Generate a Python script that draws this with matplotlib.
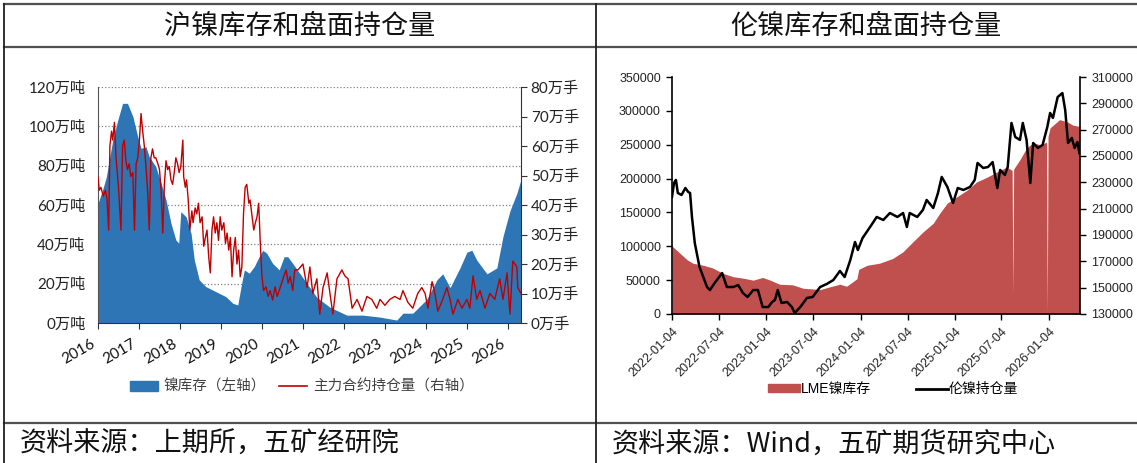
import matplotlib
matplotlib.use('Agg')
import matplotlib.pyplot as plt
from matplotlib.lines import Line2D
from matplotlib.patches import Patch
from datetime import date

CJK = 'Noto Sans CJK SC'
plt.rcParams['font.family'] = [CJK, 'DejaVu Sans']
plt.rcParams['axes.unicode_minus'] = False

# ---------------- left chart: SHFE nickel (decimal years) ----------------
shfe_stock_t = [2016.00, 2016.11, 2016.20, 2016.36, 2016.48, 2016.60, 2016.72, 2016.85, 2016.97,
                2017.05, 2017.17, 2017.25, 2017.41, 2017.54, 2017.66, 2017.78, 2017.90, 2017.97,
                2018.02, 2018.15, 2018.27, 2018.35, 2018.47, 2018.63, 2018.88, 2019.12, 2019.29,
                2019.41, 2019.49, 2019.57, 2019.69, 2019.81, 2019.93, 2020.02, 2020.12, 2020.26,
                2020.42, 2020.54, 2020.63, 2020.75, 2020.93, 2021.10, 2021.34, 2021.66, 2022.07,
                2022.46, 2022.88, 2023.29, 2023.44, 2023.68, 2024.02, 2024.27, 2024.41, 2024.59,
                2024.83, 2025.00, 2025.12, 2025.24, 2025.49, 2025.73, 2025.88, 2026.05, 2026.22,
                2026.32]
shfe_stock = [60.8, 67.6, 74, 93, 103, 111.7, 111.7, 105, 94.7,
              88.8, 89.6, 84.5, 79.5, 71, 62.5, 50.7, 42.2, 40.6,
              56.6, 54, 45.6, 32, 21.9, 18.5, 15.9, 13.4, 10,
              9.2, 18.5, 27, 25.3, 28.6, 33.7, 37, 35.4, 30.3,
              27, 33.7, 33.7, 30.3, 25, 20, 13, 8, 4,
              4, 3, 1.5, 5, 5, 12, 22, 25, 18,
              28, 36, 37, 32, 25, 28, 44, 57, 66,
              73]

shfe_oi_t = [2016.00, 2016.03, 2016.07, 2016.13, 2016.18, 2016.22, 2016.26, 2016.29, 2016.33, 2016.36,
             2016.40, 2016.44, 2016.47, 2016.50, 2016.56, 2016.60, 2016.64, 2016.68, 2016.72, 2016.76,
             2016.80, 2016.85, 2016.89, 2016.93, 2016.97, 2017.01, 2017.05, 2017.09, 2017.13, 2017.17,
             2017.21, 2017.25, 2017.29, 2017.33, 2017.37, 2017.41, 2017.46, 2017.50, 2017.54, 2017.58,
             2017.62, 2017.66, 2017.70, 2017.74, 2017.78, 2017.82, 2017.86, 2017.90, 2017.94, 2017.98,
             2018.02, 2018.07, 2018.09, 2018.13, 2018.16, 2018.20, 2018.24, 2018.29, 2018.32, 2018.37,
             2018.41, 2018.45, 2018.49, 2018.54, 2018.58, 2018.62, 2018.66, 2018.70, 2018.74, 2018.78,
             2018.82, 2018.86, 2018.90, 2018.94, 2018.98, 2019.02, 2019.07, 2019.11, 2019.15, 2019.19,
             2019.23, 2019.27, 2019.31, 2019.35, 2019.39, 2019.43, 2019.47, 2019.51, 2019.55, 2019.59,
             2019.63, 2019.68, 2019.71, 2019.76, 2019.80, 2019.84, 2019.88, 2019.92, 2019.96, 2020.00,
             2020.04, 2020.10, 2020.15, 2020.20, 2020.26, 2020.32, 2020.37, 2020.42, 2020.48, 2020.53,
             2020.59, 2020.64, 2020.69, 2020.75, 2020.80, 2020.88, 2021.00, 2021.10, 2021.17, 2021.24,
             2021.34, 2021.41, 2021.49, 2021.59, 2021.66, 2021.73, 2021.83, 2021.95, 2022.02, 2022.10,
             2022.20, 2022.32, 2022.44, 2022.56, 2022.68, 2022.80, 2022.88, 2023.00, 2023.12, 2023.24,
             2023.37, 2023.44, 2023.56, 2023.68, 2023.80, 2023.90, 2023.98, 2024.05, 2024.15, 2024.22,
             2024.29, 2024.41, 2024.51, 2024.59, 2024.66, 2024.78, 2024.88, 2025.00, 2025.07, 2025.15,
             2025.24, 2025.32, 2025.44, 2025.56, 2025.68, 2025.80, 2025.88, 2025.98, 2026.05, 2026.12,
             2026.22, 2026.24, 2026.32]
shfe_oi = [49.6, 45, 46, 43, 45, 42, 31.5, 60, 65, 62,
           68, 56, 51, 46, 31.5, 60, 62, 55, 52, 54,
           49.6, 51, 31.5, 54, 56, 62, 71, 65, 60, 53,
           45, 31.5, 56, 59, 56, 56, 54, 52, 45, 30.5,
           47, 55, 52, 53, 48.5, 47, 51, 56, 54, 51,
           53, 62, 49.6, 46, 48.5, 42, 31.5, 38, 34, 39,
           37, 40.6, 34, 36, 26, 29, 31.5, 22.5, 17, 31.5,
           36, 30.5, 34, 28, 36, 31.5, 34, 27, 30.5, 24.7,
           29, 15.7, 24.7, 29, 20, 24.7, 15.7, 19, 37, 46,
           47, 40.6, 41.7, 36, 31.5, 34, 36, 40.6, 27, 15.7,
           11, 12.3, 9, 11, 7.8, 12.3, 9, 11, 13.5, 15.7,
           18, 13.5, 15.7, 11, 18, 18, 20, 12, 19, 10,
           15, 3, 12, 17, 10, 3, 15, 18, 16, 15,
           5, 8, 4, 9, 8, 5, 8, 6, 8, 9,
           8, 11, 7, 5, 10, 12, 10, 5, 14, 10,
           4, 8, 12, 8, 3, 8, 5, 8, 5, 16,
           8, 11, 5, 10, 8, 15, 8, 17, 3, 21,
           19, 12, 10]

years_left = list(range(2016, 2027))

# ---------------- right chart: LME nickel (decimal years) ----------------
lme_stock_t = [2022.008, 2022.09, 2022.17, 2022.23, 2022.34, 2022.44, 2022.55, 2022.66, 2022.76,
               2022.87, 2022.97, 2023.05, 2023.15, 2023.29, 2023.40, 2023.50, 2023.58, 2023.68,
               2023.79, 2023.86, 2023.95, 2023.97, 2023.99, 2024.08, 2024.21, 2024.35, 2024.46,
               2024.56, 2024.67, 2024.78, 2024.85, 2024.93, 2025.03, 2025.14, 2025.24, 2025.35,
               2025.46, 2025.56, 2025.617, 2025.625, 2025.633, 2025.70, 2025.77, 2025.84, 2025.91,
               2025.97, 2025.982, 2025.99, 2025.998, 2026.02, 2026.12, 2026.20, 2026.26, 2026.33]
lme_stock = [100500, 90000, 80000, 75000, 72000, 68000, 60000, 55000, 53000,
             50000, 54000, 50000, 44000, 43000, 38000, 37000, 36000, 40000,
             44000, 41000, 50000, 52000, 66000, 72000, 75000, 82000, 92000,
             106000, 121000, 134000, 149000, 164000, 173000, 183000, 195000, 202000,
             210000, 217000, 212000, 30000, 214000, 228000, 245000, 253000, 250000,
             253000, 254000, 0, 262000, 275000, 287000, 284000, 279000, 277000]

lme_oi_t = [2022.008, 2022.03, 2022.05, 2022.07, 2022.11, 2022.15, 2022.18, 2022.20, 2022.22, 2022.25,
            2022.30, 2022.38, 2022.41, 2022.46, 2022.54, 2022.59, 2022.66, 2022.71, 2022.76, 2022.81,
            2022.87, 2022.92, 2022.97, 2023.03, 2023.07, 2023.10, 2023.13, 2023.17, 2023.23, 2023.28,
            2023.31, 2023.37, 2023.44, 2023.50, 2023.58, 2023.65, 2023.72, 2023.79, 2023.84, 2023.90,
            2023.95, 2023.98, 2024.03, 2024.11, 2024.18, 2024.25, 2024.32, 2024.40, 2024.46, 2024.50,
            2024.53, 2024.61, 2024.67, 2024.71, 2024.78, 2024.83, 2024.87, 2024.93, 2024.99, 2025.04,
            2025.10, 2025.17, 2025.22, 2025.25, 2025.31, 2025.36, 2025.41, 2025.46, 2025.49, 2025.54,
            2025.57, 2025.61, 2025.65, 2025.70, 2025.73, 2025.77, 2025.81, 2025.84, 2025.89, 2025.94,
            2025.99, 2026.02, 2026.05, 2026.10, 2026.15, 2026.18, 2026.21, 2026.25, 2026.28, 2026.31,
            2026.33]
lme_oi = [218900, 229500, 231800, 221900, 220400, 225700, 222700, 221900, 203700, 183900,
          165700, 150500, 148200, 153500, 161100, 150500, 150500, 152000, 146000, 142900,
          148200, 148200, 135300, 135300, 139100, 140600, 148200, 138400, 139100, 135300,
          130800, 135300, 142200, 142900, 150500, 152800, 155800, 162700, 158100, 171000,
          184700, 178600, 187700, 196100, 203700, 201400, 206700, 203700, 206700, 196100,
          206700, 203700, 209000, 216600, 210500, 221900, 234100, 226500, 214300, 225700,
          224200, 226500, 231800, 244700, 240900, 241600, 245400, 225700, 239400, 235600,
          241600, 275100, 264400, 262200, 275100, 262200, 229500, 259900, 256100, 258400,
          272000, 282700, 278900, 294800, 297800, 284900, 259900, 263700, 256100, 260600,
          252300]

tick_dates_right = ['2022-01-04', '2022-07-04', '2023-01-04', '2023-07-04', '2024-01-04',
                    '2024-07-04', '2025-01-04', '2025-07-04', '2026-01-04']


def dec_year(s):
    d = date.fromisoformat(s)
    return d.year + (d.timetuple().tm_yday - 1) / 365.0


W, H = 1137, 463
fig = plt.figure(figsize=(11.37, 4.63), dpi=100)

# ---------------- table frame ----------------
frame = '#505050'
for (x0, y0, x1, y1, c, lw) in [(4, 4, 1137, 4, frame, 1.6), (4, 47, 1137, 47, frame, 1.6),
                                (4, 423, 1137, 423, frame, 1.6), (4, 4, 4, 463, '#202020', 1.3),
                                (596, 4, 596, 463, '#202020', 1.3)]:
    fig.add_artist(Line2D([x0 / W, x1 / W], [1 - y0 / H, 1 - y1 / H], transform=fig.transFigure,
                          color=c, lw=lw))

txt = dict(fontsize=19.5, fontweight='light', color='#111111', va='center')
fig.text(300 / W, 1 - 26 / H, '沪镍库存和盘面持仓量', ha='center', **txt)
fig.text(866 / W, 1 - 26 / H, '伦镍库存和盘面持仓量', ha='center', **txt)
fig.text(20 / W, 1 - 444 / H, '资料来源：上期所，五矿经研院', ha='left', **txt)
fig.text(612 / W, 1 - 444 / H, '资料来源：Wind，五矿期货研究中心', ha='left', **txt)

# ---------------- left chart ----------------
blue = '#2E75B6'
red = '#C00000'
lat = ['Lato', CJK]
ax1 = fig.add_axes([98 / W, 1 - 323 / H, 423 / W, 236 / H])
ax1.fill_between(shfe_stock_t, shfe_stock, color=blue, lw=0, zorder=2)
ax1.set_xlim(2016, 2026.32)
ax1.set_ylim(0, 120)
ax1.set_yticks(range(0, 121, 20))
ax1.set_yticklabels([f'{v}万吨' for v in range(0, 121, 20)], fontsize=11, family=lat, color='#222222')
ax1.set_xticks(years_left)
ax1.set_xticklabels([str(y) for y in years_left], rotation=30, ha='right', fontsize=11,
                    family=lat, color='#111111')
ax1.tick_params(axis='y', length=0, pad=9)
ax1.tick_params(axis='x', length=4, pad=6, color='#333333')
ax1.yaxis.grid(True, linestyle=':', color='#808080', lw=0.9)
ax1.set_axisbelow(True)
ax1.spines['top'].set_visible(False)
ax1.spines['left'].set_color('#555555')
ax1.spines['bottom'].set_color('#333333')
ax1.spines['right'].set_visible(False)

ax1b = ax1.twinx()
ax1b.plot(shfe_oi_t, shfe_oi, color=red, lw=1.0)
ax1b.set_ylim(0, 80)
ax1b.set_yticks(range(0, 81, 10))
ax1b.set_yticklabels([f'{v}万手' for v in range(0, 81, 10)], fontsize=11, family=lat, color='#222222')
ax1b.tick_params(axis='y', length=4, pad=3, color='#333333')
ax1b.spines['top'].set_visible(False)
ax1b.spines['left'].set_visible(False)
ax1b.spines['bottom'].set_visible(False)
ax1b.spines['right'].set_color('#333333')

fig.legend([Patch(color=blue), Line2D([], [], color=red, lw=1.2)],
           ['镍库存（左轴）', '主力合约持仓量（右轴）'],
           loc='center', bbox_to_anchor=(302 / W, 1 - 387 / H), ncol=2, frameon=False,
           fontsize=10.5, handlelength=1.9, handleheight=0.6, handletextpad=0.4,
           columnspacing=0.9, labelcolor='#404040')

# ---------------- right chart ----------------
lred = '#C0504D'
arial = ['Liberation Sans', CJK]
ax2 = fig.add_axes([672 / W, 1 - 314 / H, 408 / W, 237 / H])
ax2.fill_between(lme_stock_t, lme_stock, color=lred, lw=0)
ax2.set_xlim(dec_year('2022-01-04'), 2026.337)
ax2.set_ylim(0, 350000)
ax2.set_yticks(range(0, 350001, 50000))
ax2.set_yticklabels([str(v) for v in range(0, 350001, 50000)], fontsize=9, family=arial, color='#222222')
ax2.set_xticks([dec_year(s) for s in tick_dates_right])
ax2.set_xticklabels(tick_dates_right, rotation=45, ha='right', rotation_mode='anchor',
                    fontsize=9, family=arial, color='#222222')
ax2.tick_params(axis='both', length=4, width=1.0, pad=4)
ax2.spines['top'].set_visible(False)
ax2.spines['right'].set_visible(False)
for s in ('left', 'bottom'):
    ax2.spines[s].set_linewidth(1.2)

ax2b = ax2.twinx()
ax2b.plot(lme_oi_t, lme_oi, color='black', lw=1.8)
ax2b.set_ylim(130000, 310000)
ax2b.set_yticks(range(130000, 310001, 20000))
ax2b.set_yticklabels([str(v) for v in range(130000, 310001, 20000)], fontsize=9, family=arial,
                     color='#222222')
ax2b.tick_params(axis='y', length=4, width=1.0, pad=4)
ax2b.spines['top'].set_visible(False)
ax2b.spines['left'].set_visible(False)
ax2b.spines['bottom'].set_visible(False)
ax2b.spines['right'].set_linewidth(1.2)

fig.legend([Patch(color=lred), Line2D([], [], color='black', lw=2)],
           ['LME镍库存', '伦镍持仓量'],
           loc='center', bbox_to_anchor=(893 / W, 1 - 389 / H), ncol=2, frameon=False,
           handlelength=2.3, handleheight=0.5, handletextpad=0.1,
           columnspacing=3.2, prop={'family': arial, 'size': 10})

fig.savefig('out.png', dpi=100)
